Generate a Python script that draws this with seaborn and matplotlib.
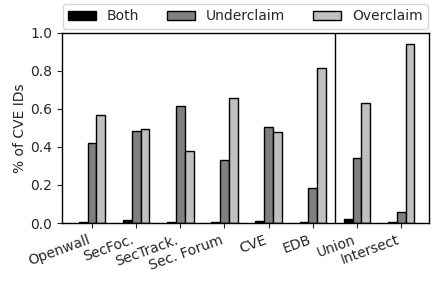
import matplotlib
matplotlib.use("Agg")
import matplotlib.pyplot as plt
import seaborn as sns
import pandas as pd

categories = ["Openwall", "SecFoc.", "SecTrack.", "Sec. Forum", "CVE", "EDB", "Union", "Intersect"]
both = [0.005, 0.018, 0.003, 0.005, 0.01, 0.003, 0.022, 0.003]
underclaim = [0.42, 0.483, 0.615, 0.332, 0.504, 0.183, 0.342, 0.056]
overclaim = [0.57, 0.493, 0.381, 0.658, 0.479, 0.813, 0.632, 0.942]
series = ["Both", "Underclaim", "Overclaim"]
colors = ["#000000", "#808080", "#c0c0c0"]

rows = []
for i, c in enumerate(categories):
    for s, vals in zip(series, [both, underclaim, overclaim]):
        rows.append({"cat": c, "series": s, "value": vals[i]})
df = pd.DataFrame(rows)

sns.set_style("ticks")
plt.rcParams["font.family"] = ["DejaVu Sans"]

fig = plt.figure(figsize=(4.36, 2.83), dpi=100)
ax = fig.add_axes([0.142, 0.212, 0.842, 0.672])
sns.barplot(data=df, x="cat", y="value", hue="series", order=categories,
            hue_order=series, palette=colors, width=0.6, edgecolor="black",
            linewidth=1.0, saturation=1, ax=ax, legend=True)
ax.set_xlim(-0.68, 7.63)
ax.set_ylim(0, 1.0)
ax.set_yticks([0, 0.2, 0.4, 0.6, 0.8, 1.0])
ax.set_yticklabels(["0.0", "0.2", "0.4", "0.6", "0.8", "1.0"], fontsize=10)
ax.set_ylabel("% of CVE IDs", fontsize=10, labelpad=2)
ax.set_xlabel("")
ax.set_xticks(range(len(categories)))
ax.set_xticklabels(categories, rotation=20, ha="right", fontsize=10)
ax.axvline(5.5, color="black", linewidth=1.0)
for sp in ax.spines.values():
    sp.set_visible(True)
    sp.set_color("black")
    sp.set_linewidth(1.0)
ax.legend(loc="lower center", bbox_to_anchor=(0.5, 1.02), ncol=3, fontsize=10,
          frameon=True, handlelength=2.0, columnspacing=2.0, borderaxespad=0.0)
fig.savefig("out.png", dpi=100)
